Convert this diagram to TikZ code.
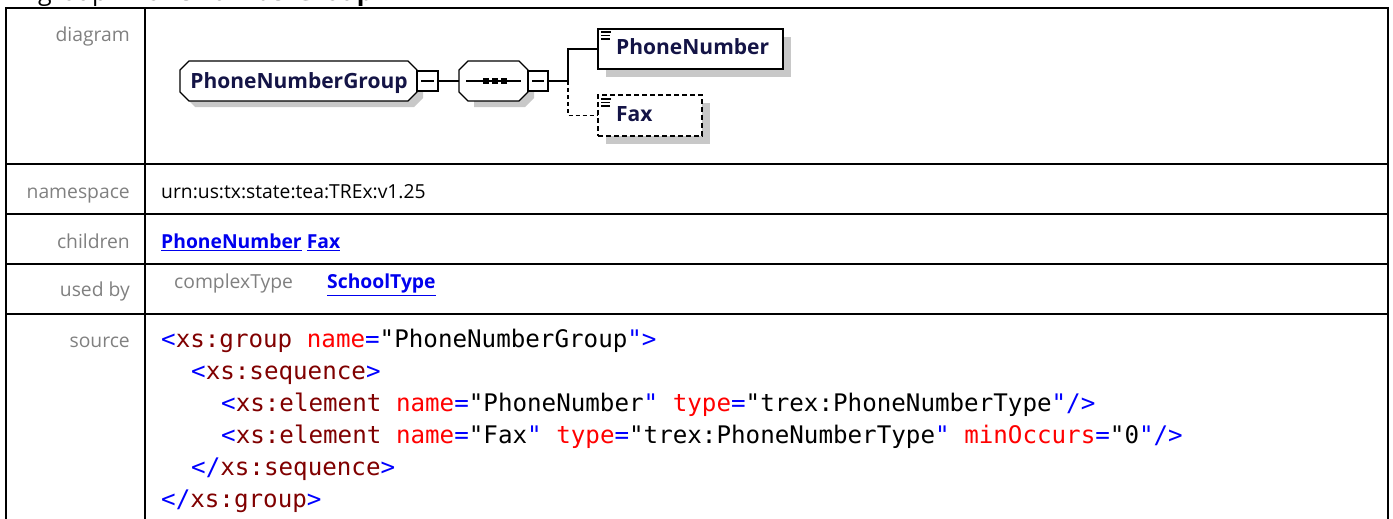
\documentclass[tikz,border=0pt]{standalone}
\usepackage{fontspec}
\setmainfont{Open Sans}
\setmonofont{DejaVu Sans Mono}
\usetikzlibrary{calc}
\definecolor{lblgray}{RGB}{128,128,128}
\definecolor{shadowgray}{RGB}{200,200,200}
\definecolor{navy}{RGB}{20,20,70}
\definecolor{linkblue}{RGB}{0,0,238}
\definecolor{xblue}{RGB}{0,0,255}
\definecolor{xdred}{RGB}{128,0,0}
\definecolor{xred}{RGB}{255,0,0}
\newcommand{\xb}[1]{\textcolor{xblue}{#1}}
\newcommand{\xe}[1]{\textcolor{xdred}{#1}}
\newcommand{\xa}[1]{\textcolor{xred}{#1}}
\newcommand{\lnk}[1]{\textcolor{linkblue}{\bfseries\underline{#1}}}
\begin{document}
\begin{tikzpicture}[x=1pt,y=-1pt,
  rowline/.style={line width=2pt,black},
  lbl/.style={anchor=mid east,text=lblgray,font=\fontsize{19.3}{22}\selectfont,inner sep=0pt},
  val/.style={anchor=mid west,font=\fontsize{19.3}{22}\selectfont,inner sep=0pt},
  code/.style={anchor=mid west,font=\ttfamily\fontsize{24.2}{28}\selectfont,inner sep=0pt},
  dtext/.style={font=\bfseries\fontsize{21}{24}\selectfont,text=navy,inner sep=0pt},
  conn/.style={line width=1.3pt,black},
  dconn/.style={line width=1.3pt,black,dash pattern=on 4pt off 3pt},
  xsdbox/.style={line width=1.3pt,draw=black,fill=white},
  shade/.style={fill=shadowgray,draw=none}
]
\useasboundingbox (0,0) rectangle (1393,519);
\clip (0,0) rectangle (1393,519);
% title
\node[anchor=base west,inner sep=0pt,font=\fontsize{25}{28}\selectfont] (title) at (38,1) {group \textbf{PhoneNumberGroup}};
% table
\draw[rowline] (6,530) -- (6,8) -- (1388,8) -- (1388,530);
\draw[rowline] (145,8) -- (145,530);
\draw[rowline] (6,164) -- (1388,164);
\draw[rowline] (6,214) -- (1388,214);
\draw[rowline] (6,264) -- (1388,264);
\draw[rowline] (6,314) -- (1388,314);
% labels
\node[lbl] (ldiag) at (130,39) {diagram};
\node[lbl] (lns) at (130,196) {namespace};
\node[lbl] (lch) at (130,246) {children};
\node[lbl] (lub) at (130,294) {used by};
\node[lbl] (lsrc) at (130,345) {source};
\node[val] (ns) at (161,196) {urn:us:tx:state:tea:TREx:v1.25};
\node[val] (ch) at (161,246) {\lnk{PhoneNumber} \lnk{Fax}};
\node[val,text=lblgray] (ct) at (174,286) {complexType};
\node[val] (st) at (327,286) {\lnk{SchoolType}};
% code
\node[code] (c1) at (161,345) {\xb{<}\xe{xs:group} \xa{name}\xb{=}"PhoneNumberGroup\xb{">}};
\node[code] (c2) at (191,377) {\xb{<}\xe{xs:sequence}\xb{>}};
\node[code] (c3) at (221,409) {\xb{<}\xe{xs:element} \xa{name}\xb{=}"PhoneNumber\xb{"} \xa{type}\xb{=}"trex:PhoneNumberType\xb{"/>}};
\node[code] (c4) at (221,441) {\xb{<}\xe{xs:element} \xa{name}\xb{=}"Fax\xb{"} \xa{type}\xb{=}"trex:PhoneNumberType\xb{"} \xa{minOccurs}\xb{=}"0\xb{"/>}};
\node[code] (c5) at (191,473) {\xb{</}\xe{xs:sequence}\xb{>}};
\node[code] (c6) at (161,505) {\xb{</}\xe{xs:group}\xb{>}};
% ---- diagram ----
% group octagon
\fill[shade] (186,70) -- (414,70) -- (423,79) -- (423,98) -- (414,107) -- (195,107) -- (186,98) -- cycle;
\draw[xsdbox] (180,70) -- (189,61) -- (408,61) -- (417,70) -- (417,92) -- (408,101) -- (189,101) -- (180,92) -- cycle;
\node[dtext] (grp) at (299,83) {PhoneNumberGroup};
% minus box 1
\draw[xsdbox] (417,71) rectangle (438,91);
\draw[conn] (421,81) -- (434,81);
\coordinate (m1) at (438,81);
% sequence octagon
\fill[shade] (474,70) -- (525,70) -- (534,79) -- (534,98) -- (525,107) -- (474,107) -- cycle;
\draw[xsdbox] (459,70) -- (468,61) -- (519,61) -- (528,70) -- (528,92) -- (519,101) -- (468,101) -- (459,92) -- cycle;
\coordinate (seqL) at (459,81);
\draw[conn] (466,81) -- (521,81);
\fill (483,78) rectangle (489,84);
\fill (492,78) rectangle (498,84);
\fill (501,78) rectangle (507,84);
\draw[conn] (m1) -- (seqL);
% minus box 2
\draw[xsdbox] (528,71) rectangle (548,91);
\draw[conn] (532,81) -- (544,81);
\coordinate (m2) at (548,81);
\coordinate (fork) at (568,81);
% PhoneNumber element
\fill[shade] (606,37) rectangle (791,77);
\node[xsdbox,minimum width=185pt,minimum height=40pt,inner sep=0pt] (pn) at (690.5,49) {};
\node[dtext,anchor=mid west] (pnt) at (616,52) {PhoneNumber};
\draw[line width=1.2pt] (601,32) -- (611,32) (601,35.5) -- (610,35.5) (601,39) -- (610,39);
% Fax element
\fill[shade] (606,103) rectangle (710,144);
\node[xsdbox,dash pattern=on 5pt off 3pt,minimum width=104pt,minimum height=41pt,inner sep=0pt] (fax) at (650,115.5) {};
\node[dtext,anchor=mid west] (faxt) at (616,119) {Fax};
\draw[line width=1.2pt] (601,99) -- (611,99) (601,102.5) -- (610,102.5) (601,106) -- (610,106);
% connectors
\draw[conn] (m2) -- (fork) |- (pn.west);
\draw[dconn] (fork) |- (fax.west);
\end{tikzpicture}
\end{document}
